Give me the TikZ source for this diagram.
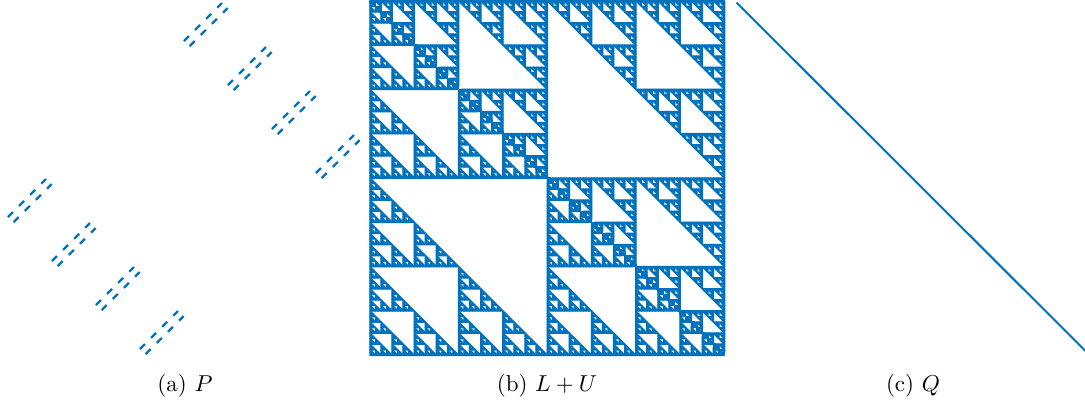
\documentclass[tikz,border=0pt]{standalone}
\definecolor{mblue}{RGB}{0,114,189}
% recursive sparsity pattern: #1 x, #2 y (downward), #3 size, #4 level
\newcommand\sqL[4]{%
 \ifnum#4=0
  \pgfpathmoveto{\pgfqpoint{#1}{-#2}}%
  \pgfpathlineto{\pgfqpoint{#1}{-\dimexpr#2+#3\relax}}%
  \pgfpathlineto{\pgfqpoint{\dimexpr#1+#3\relax}{-\dimexpr#2+#3\relax}}%
  \pgfpathclose\pgfusepath{fill,stroke}%
 \else
  \edef\spyh{\the\dimexpr#3/2\relax}%
  \edef\spyx{\the\dimexpr#1+\spyh\relax}%
  \edef\spyy{\the\dimexpr#2+\spyh\relax}%
  \edef\spyl{\the\numexpr#4-1\relax}%
  \edef\spynext{\noexpand\sqL{#1}{#2}{\spyh}{\spyl}\noexpand\sqL{#1}{\spyy}{\spyh}{\spyl}\noexpand\sqL{\spyx}{\spyy}{\spyh}{\spyl}}%
  \spynext
 \fi}
\newcommand\sqU[4]{%
 \ifnum#4=0
  \pgfpathmoveto{\pgfqpoint{#1}{-#2}}%
  \pgfpathlineto{\pgfqpoint{\dimexpr#1+#3\relax}{-\dimexpr#2+#3\relax}}%
  \pgfpathlineto{\pgfqpoint{\dimexpr#1+#3\relax}{-#2}}%
  \pgfpathclose\pgfusepath{fill,stroke}%
 \else
  \edef\spyh{\the\dimexpr#3/2\relax}%
  \edef\spyx{\the\dimexpr#1+\spyh\relax}%
  \edef\spyy{\the\dimexpr#2+\spyh\relax}%
  \edef\spyl{\the\numexpr#4-1\relax}%
  \edef\spynext{\noexpand\sqU{#1}{#2}{\spyh}{\spyl}\noexpand\sqU{\spyx}{#2}{\spyh}{\spyl}\noexpand\sqU{\spyx}{\spyy}{\spyh}{\spyl}}%
  \spynext
 \fi}
\newcommand\sqM[4]{%
 \ifnum#4=0
  \pgfpathmoveto{\pgfqpoint{#1}{-#2}}%
  \pgfpathlineto{\pgfqpoint{#1}{-\dimexpr#2+#3\relax}}%
  \pgfpathlineto{\pgfqpoint{\dimexpr#1+#3\relax}{-\dimexpr#2+#3\relax}}%
  \pgfpathlineto{\pgfqpoint{\dimexpr#1+#3\relax}{-#2}}%
  \pgfpathclose\pgfusepath{fill,stroke}%
 \else
  \edef\spyh{\the\dimexpr#3/2\relax}%
  \edef\spyx{\the\dimexpr#1+\spyh\relax}%
  \edef\spyy{\the\dimexpr#2+\spyh\relax}%
  \edef\spyl{\the\numexpr#4-1\relax}%
  \edef\spynext{\noexpand\sqM{#1}{#2}{\spyh}{\spyl}\noexpand\sqU{\spyx}{#2}{\spyh}{\spyl}\noexpand\sqL{#1}{\spyy}{\spyh}{\spyl}\noexpand\sqM{\spyx}{\spyy}{\spyh}{\spyl}}%
  \spynext
 \fi}
\tikzset{
  pdash/.style={draw=mblue, line width=2.4pt, dash pattern=on 7pt off 8.7pt},
  qline/.style={draw=mblue, line width=2pt},
  captext/.style={anchor=base, scale=2.3, inner sep=0pt}
}
\begin{document}
\begin{tikzpicture}[x=1pt,y=-1pt]
\useasboundingbox (0,0) rectangle (1085,400);
% (a) P
\foreach \k in {0,...,3} {
  \coordinate (u\k) at (184+44*\k, 41+44*\k);
  \coordinate (v\k) at (189.7+44*\k, 46+44*\k);
  \coordinate (w\k) at (8+44*\k, 217+44*\k);
  \coordinate (z\k) at (13.7+44*\k, 222+44*\k);
  \draw[pdash] (u\k) -- ++(38,-38);
  \draw[pdash] (v\k) -- ++(38,-38);
  \draw[pdash] (w\k) -- ++(38,-38);
  \draw[pdash] (z\k) -- ++(38,-38);
}
% (b) L+U
\begin{scope}
  \pgfsetcolor{mblue}
  \pgfsetlinewidth{1.5pt}
  \pgfsetroundjoin
  \sqM{370pt}{0.8pt}{354.5pt}{7}
\end{scope}
% (c) Q
\coordinate (q1) at (736.5,2.5);
\coordinate (q2) at (1086,351.5);
\draw[qline] (q1) -- (q2);
% captions
\node[captext] (ca) at (185,391) {(a) $P$};
\node[captext] (cb) at (547,391) {(b) $L+U$};
\node[captext] (cc) at (913,391) {(c) $Q$};
\end{tikzpicture}
\end{document}
